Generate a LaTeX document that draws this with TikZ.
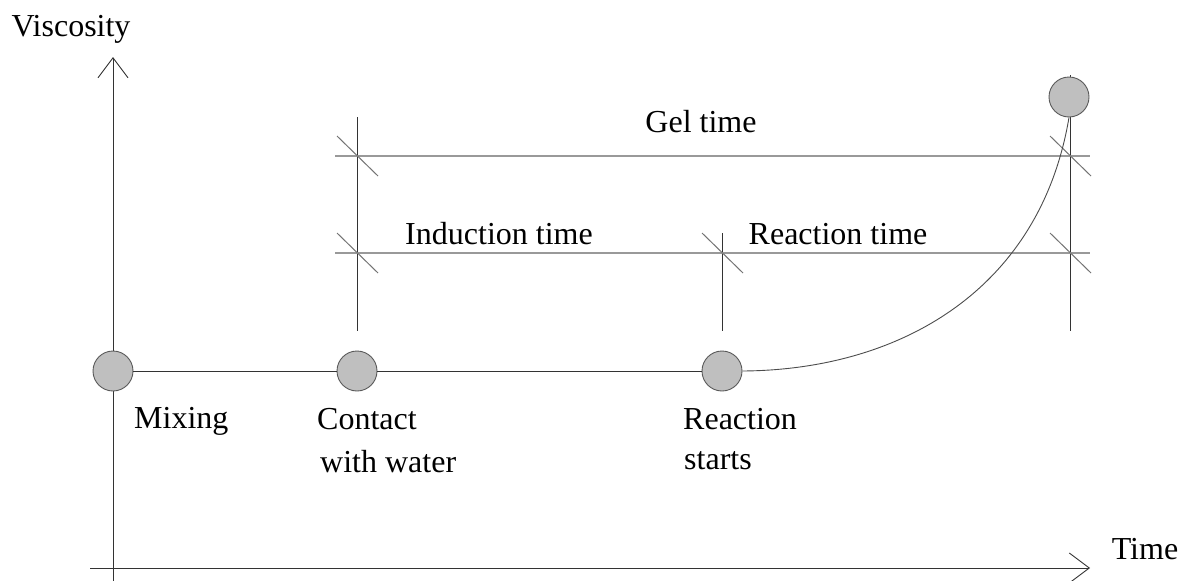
\documentclass[tikz,border=0pt]{standalone}
\usepackage{fontspec}
\setmainfont{Liberation Serif}
\usetikzlibrary{arrows.meta}

\tikzset{
  hito/.style={circle, draw=black!65, fill=black!25, line width=0.9pt, minimum size=40pt, inner sep=0pt},
  eje/.style={black!80, line width=0.9pt, -{Straight Barb[length=20pt, width=30pt, line width=0.9pt]}},
  guia/.style={black!40, line width=1.6pt},
  marca/.style={black!80, line width=0.9pt},
  corte/.style={black!55, line width=1pt},
  rotulo/.style={font=\fontsize{32}{38}\selectfont, inner sep=0pt, align=left},
}

\begin{document}
\begin{tikzpicture}[x=1pt, y=-1pt]
  \useasboundingbox (0,0) rectangle (1184,581);

  % Ejes
    \coordinate (yini) at (113,581);
    \coordinate (yfin) at (113,57);
    \coordinate (xini) at (90,568);
    \coordinate (xfin) at (1090,568);
    \draw[eje] (yini) -- (yfin);
    \draw[eje] (xini) -- (xfin);
    \node[rotulo] (visc) at (71,29) {Viscosity};
    \node[rotulo] (tiempo) at (1145,549) {Time};

  % Marcas verticales
    \coordinate (ca) at (357,117);  \coordinate (cb) at (357,331);
    \coordinate (ra) at (722,233);  \coordinate (rb) at (722,331);
    \coordinate (ga) at (1070,75);  \coordinate (gb) at (1070,331);
    \draw[marca] (ca) -- (cb);
    \draw[marca] (ra) -- (rb);
    \draw[marca] (ga) -- (gb);

  % Intervalos
    \coordinate (gi) at (335,156);  \coordinate (gf) at (1090,156);
    \coordinate (ii) at (335,253);  \coordinate (if) at (1090,253);
    \draw[guia] (gi) -- (gf);
    \draw[guia] (ii) -- (if);
    \foreach \c in {(357,156), (357,253), (722,253), (1070,156), (1070,253)}
      \draw[corte] \c ++(-20,-20) -- ++(41,40);

    \node[rotulo] (lgel) at (701,122) {Gel time};
    \node[rotulo] (lind) at (499,234) {Induction time};
    \node[rotulo] (lreac) at (838,234) {Reaction time};

  % Hitos
    \node[hito] (mix) at (113,371) {};
    \node[hito] (contact) at (357,371) {};
    \node[hito] (react) at (722,371) {};
    \node[hito] (gel) at (1069,97) {};
    \draw[marca] (mix) -- (contact);
    \draw[marca] (contact) -- (react);

  % Curva de viscosidad
    \draw[black!70, line width=0.9pt] (react.east) .. controls (900,370) and (1040,290) .. (gel.south);

  % Rotulos de hitos
    \node[rotulo, anchor=west] (lmix) at (134,421) {Mixing};
    \node[rotulo, anchor=west] (lcon) at (317,419) {Contact};
    \node[rotulo, anchor=west] (lagua) at (320,462) {with water};
    \node[rotulo, anchor=west] (lrs) at (683,419) {Reaction};
    \node[rotulo, anchor=west] (lst) at (684,461) {starts};
\end{tikzpicture}
\end{document}
